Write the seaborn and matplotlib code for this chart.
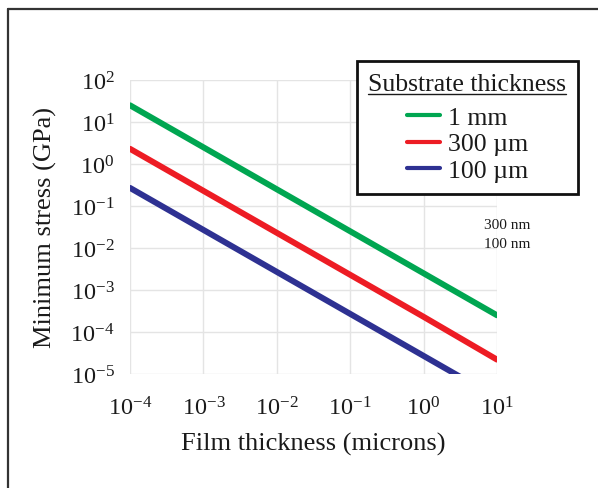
import numpy as np
import pandas as pd
import matplotlib
matplotlib.use('Agg')
import matplotlib.pyplot as plt
from matplotlib.lines import Line2D
import seaborn as sns

# film thickness (microns), one point per decade
film = [1e-4, 1e-3, 1e-2, 1e-1, 1e0, 1e1]
# minimum stress (GPa)
stress_1mm = [25, 2.5, 0.25, 0.025, 2.5e-3, 2.5e-4]
stress_300um = [2.3, 0.23, 0.023, 2.3e-3, 2.3e-4, 2.2e-5]
stress_100um = [0.27, 0.027, 2.7e-3, 2.7e-4, 2.7e-5, 2.7e-6]
labels = ['1 mm', '300 \u00b5m', '100 \u00b5m']
colors = ['#00a651', '#ed1c24', '#2e3192']
notes = ['300 nm', '100 nm']

df = pd.DataFrame({
    'film': film * 3,
    'stress': stress_1mm + stress_300um + stress_100um,
    'substrate': [labels[0]] * 6 + [labels[1]] * 6 + [labels[2]] * 6,
})

sns.set_theme(style='whitegrid')
plt.rcParams['font.family'] = ['Liberation Serif', 'DejaVu Serif']
plt.rcParams['mathtext.fontset'] = 'custom'
plt.rcParams['mathtext.rm'] = 'Liberation Serif'
plt.rcParams['mathtext.it'] = 'Liberation Serif:italic'
plt.rcParams['mathtext.bf'] = 'Liberation Serif:bold'
plt.rcParams['axes.unicode_minus'] = False

fig = plt.figure(figsize=(5.98, 4.89), dpi=100)
ax = fig.add_axes([130 / 598, 1 - 375 / 489, 367 / 598, 294 / 489])

sns.lineplot(data=df, x='film', y='stress', hue='substrate',
             palette=dict(zip(labels, colors)), linewidth=4.3,
             legend=False, ax=ax)
ax.set_xscale('log')
ax.set_yscale('log')
ax.set_xlim(1e-4, 1e1)
ax.set_ylim(1e-5, 1e2)
ax.set_xticks(film)
ax.set_yticks([10.0 ** k for k in range(-5, 3)])
ax.minorticks_off()
ax.grid(True, which='major', color='#e4e4e4', linewidth=1)
for s in ax.spines.values():
    s.set_visible(False)
ax.tick_params(axis='both', which='major', labelsize=17.5, length=5,
               width=1, color='#dddddd', labelcolor='#1a1a1a')
ax.tick_params(axis='x', pad=11)
ax.tick_params(axis='y', pad=6)
ax.set_xlabel('Film thickness (microns)', fontsize=19, color='#1a1a1a', labelpad=9)
ax.set_ylabel('Minimum stress (GPa)', fontsize=19, color='#1a1a1a', labelpad=10)
ax.set_facecolor('white')

for i, t in enumerate(notes):
    ax.text(0.965, 0.51 - i * 0.065, t, transform=ax.transAxes,
            fontsize=11, color='#1a1a1a', ha='left', va='center')

handles = [Line2D([0], [0], color=c, linewidth=3) for c in colors]
leg = ax.legend(handles, labels, title='Substrate thickness',
                loc='upper right', bbox_to_anchor=(578 / 598, 1 - 62 / 489),
                bbox_transform=fig.transFigure, borderaxespad=0,
                fontsize=18.5, title_fontsize=18.5, handlelength=1.3,
                handletextpad=0.3, labelspacing=0.15, borderpad=0.45,
                fancybox=False, framealpha=1, edgecolor='#111111',
                alignment='center')
leg._legend_box.sep = 8
leg.get_frame().set_linewidth(2)
leg.get_title().set_color('#1a1a1a')
for t in leg.get_texts():
    t.set_color('#1a1a1a')

# page frame around the figure
fig.add_artist(Line2D([7.5 / 598, 1.0], [1 - 9.5 / 489, 1 - 9.5 / 489],
                      transform=fig.transFigure, color='#333333', linewidth=1.6))
fig.add_artist(Line2D([7.5 / 598, 7.5 / 598], [0.0, 1 - 9.5 / 489],
                      transform=fig.transFigure, color='#333333', linewidth=1.6))

# underline the legend title
fig.canvas.draw()
bb = leg.get_title().get_window_extent().transformed(fig.transFigure.inverted())
fig.add_artist(Line2D([bb.x0, bb.x1], [bb.y0 + 0.002, bb.y0 + 0.002],
                      transform=fig.transFigure, color='#1a1a1a', linewidth=1))

fig.savefig('out.png', dpi=100)
